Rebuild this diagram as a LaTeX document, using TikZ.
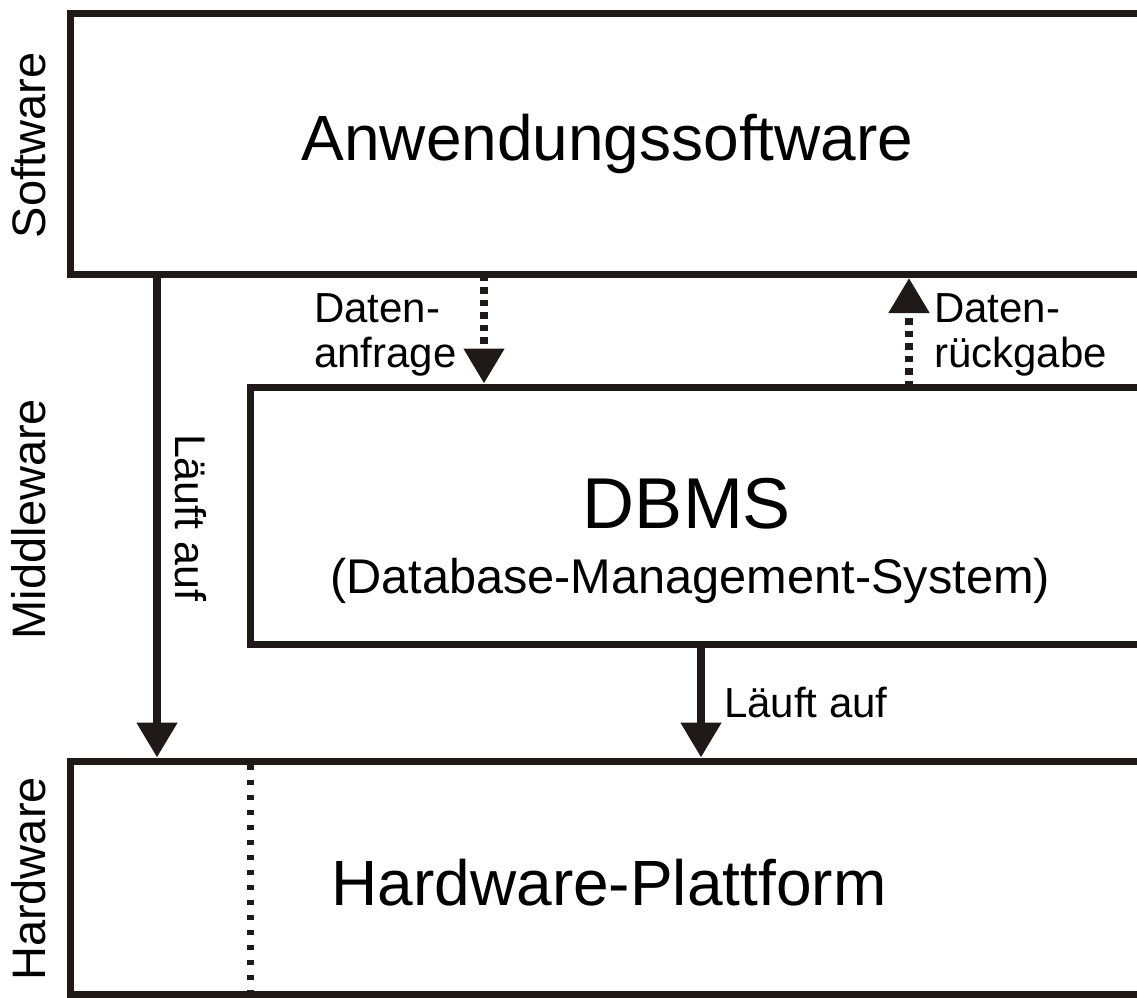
\documentclass[tikz,border=0pt]{standalone}
\usepackage{fontspec}
\setmainfont{Liberation Sans}
\usetikzlibrary{arrows.meta,calc}
\definecolor{ink}{HTML}{1F1A17}
\tikzset{
  layer/.style={draw=ink, line width=7pt, rectangle, inner sep=0pt, outer sep=0pt, anchor=north west},
  lbl/.style={inner sep=0pt, outer sep=0pt, text=black},
  big/.style={lbl, font=\fontsize{64}{70}\selectfont},
  side/.style={lbl, rotate=90, anchor=base, font=\fontsize{47}{50}\selectfont},
  small/.style={lbl, anchor=base west, font=\fontsize{42}{46}\selectfont},
  solidarrow/.style={draw=ink, line width=8pt, shorten >=3.5pt,
    -{Triangle[width=39pt,length=35pt]}, ink},
  dasharrow/.style={solidarrow, dash pattern=on 6.5pt off 6pt},
  dotline/.style={draw=ink, line width=7pt, dash pattern=on 5pt off 10pt}
}
\begin{document}
\begin{tikzpicture}[x=1pt,y=-1pt]
\useasboundingbox (0,0) rectangle (1137,997);
\clip (0,0) rectangle (1137,997);

% the three layers
\node[layer, minimum width=1109.5pt, minimum height=261pt] (sw) at (70.5,13.5) {};
\node[layer, minimum width=930pt, minimum height=257pt] (db) at (250,387) {};
\node[layer, minimum width=1109.5pt, minimum height=233pt] (hw) at (70.5,761) {};

% texts inside the layers
\node[big, anchor=base] (swtext) at (607.5,160) {Anwendungssoftware};
\node[lbl, anchor=base, font=\fontsize{72}{76}\selectfont] (dbtext) at (687,528) {DBMS};
\node[lbl, anchor=base, font=\fontsize{48.7}{52}\selectfont] (dbsub) at (690,593)
  {(Database-Management-System)};
\node[big, anchor=base] (hwtext) at (609,905) {Hardware-Plattform};

% layer names on the left
\node[side] (lsw) at (45,145.5) {Software};
\node[side] (lmw) at (45,519) {Middleware};
\node[side] (lhw) at (45,879) {Hardware};

% connectors
\draw[solidarrow] ($(sw.south west)+(86.5,0)$) -- ($(hw.north west)+(86.5,0)$);
\draw[solidarrow] ($(db.south west)+(451,0)$) -- ($(hw.north west)+(630.5,0)$);
\draw[dasharrow] ($(sw.south west)+(413.5,0)$) -- ($(db.north west)+(234,0)$);
\draw[dasharrow] ($(db.north west)+(659,0)$) -- ($(sw.south west)+(838.5,0)$);
\draw[dotline] ($(hw.north west)+(179.5,4)$) -- ($(hw.south west)+(179.5,0)$);

% connector labels
\node[small] (q1) at (314,322) {Daten-};
\node[small] (q2) at (314,367) {anfrage};
\node[small] (r1) at (934,322) {Daten-};
\node[small] (r2) at (934,367) {rückgabe};
\node[small] (run2) at (724,717) {Läuft auf};
\node[small, rotate=-90, font=\fontsize{43}{46}\selectfont] (run1) at (175,434) {Läuft auf};
\end{tikzpicture}
\end{document}
